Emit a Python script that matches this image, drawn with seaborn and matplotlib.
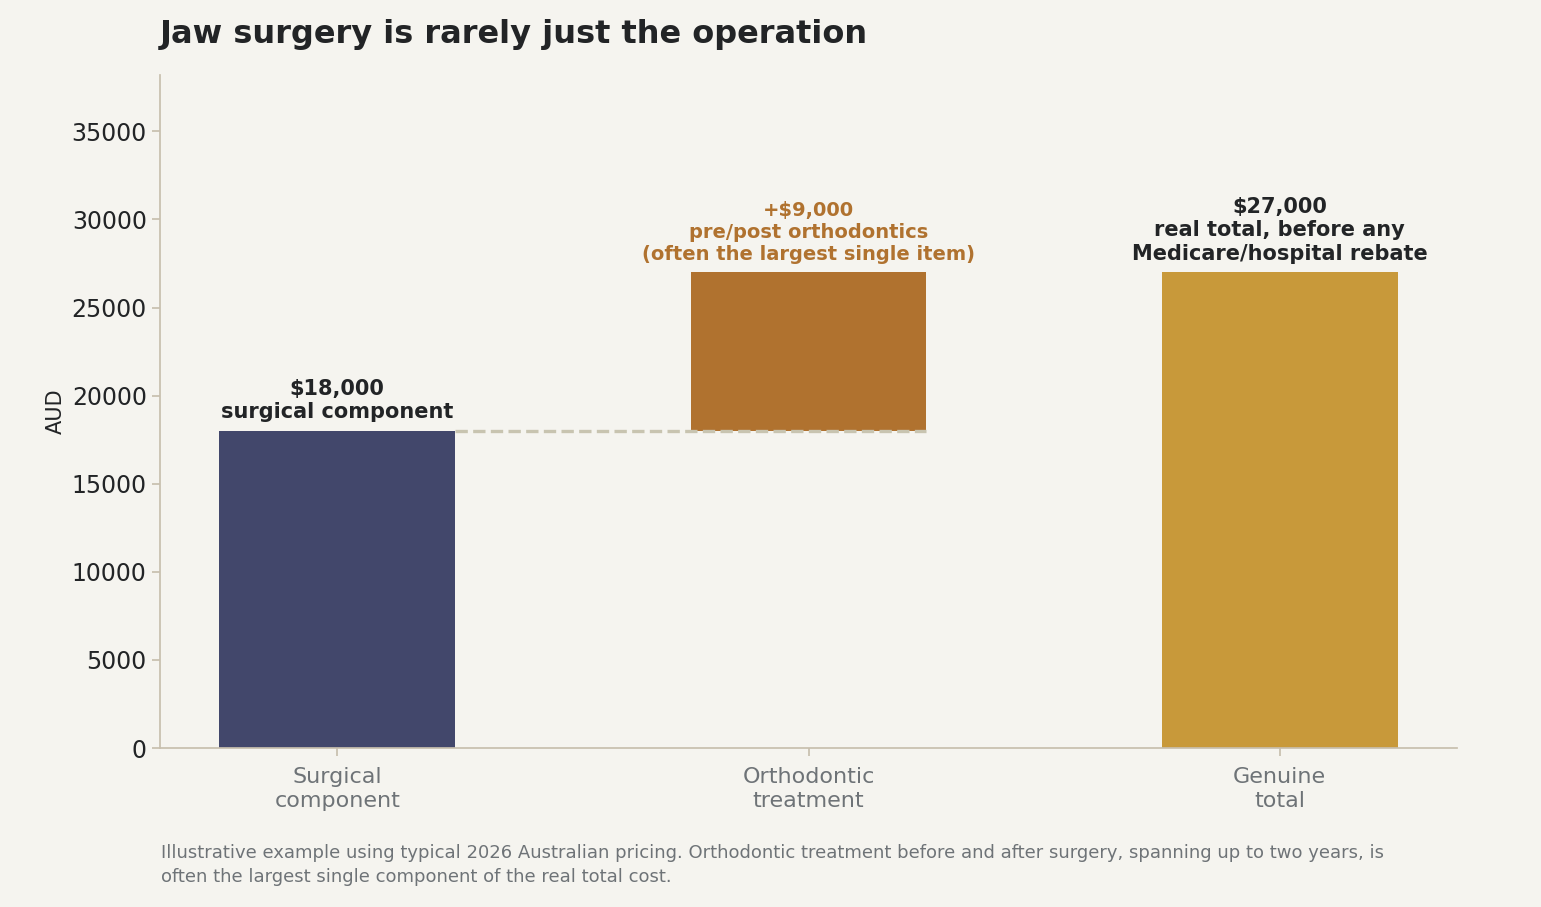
import numpy as np
import matplotlib
matplotlib.use("Agg")
import matplotlib.pyplot as plt
import seaborn as sns

# Data
categories = ["Surgical\ncomponent", "Orthodontic\ntreatment", "Genuine\ntotal"]
values = [18000, 9000, 27000]
bottoms = [0, 18000, 0]
colors = ["#42476B", "#B0722F", "#C8993A"]
labels = ["$18,000\nsurgical component",
          "+$9,000\npre/post orthodontics\n(often the largest single item)",
          "$27,000\nreal total, before any\nMedicare/hospital rebate"]
label_colors = ["#222426", "#B0722F", "#222426"]

bg = "#F5F4EF"
sns.set_theme(style="white")
plt.rcParams["font.family"] = ["DejaVu Sans"]

fig = plt.figure(figsize=(15.41, 9.07), dpi=100, facecolor=bg)
ax = fig.add_axes([160 / 1541, 1 - 748 / 907, (1457 - 160) / 1541, (748 - 75) / 907])
ax.set_facecolor(bg)

x = np.arange(len(categories))
ax.bar(x, values, bottom=bottoms, width=0.5, color=sns.color_palette(colors), linewidth=0)

# connector from surgical top to orthodontic base
ax.plot([0.25, 1.25], [values[0], values[0]], ls="--", lw=2.4, color="#C8C4B0", zorder=3)

for i, (lab, c) in enumerate(zip(labels, label_colors)):
    top = bottoms[i] + values[i]
    ax.text(i, top + 500, lab, ha="center", va="bottom", fontsize=14 if i == 1 else 15,
            fontweight="bold", color=c, linespacing=1.2)

ax.set_xticks(x)
ax.set_xticklabels(categories)
ax.set_xlim(-0.376, 2.376)
ax.set_ylim(0, 38200)
ax.set_yticks(np.arange(0, 35001, 5000))
ax.set_ylabel("AUD", fontsize=15, color="#222426")
ax.tick_params(axis="y", labelsize=17, colors="#222426", left=True, length=6, color="#C8BFAE")
ax.tick_params(axis="x", labelsize=16, labelcolor="#6E7377", bottom=True, length=6, color="#C8BFAE", pad=8)
for s in ["top", "right"]:
    ax.spines[s].set_visible(False)
for s in ["left", "bottom"]:
    ax.spines[s].set_color("#C8BFAE")

fig.text(160 / 1541, 1 - 35 / 907, "Jaw surgery is rarely just the operation",
         fontsize=23, fontweight="bold", color="#222426", va="center")
fig.text(161 / 1541, 1 - 865 / 907,
         "Illustrative example using typical 2026 Australian pricing. Orthodontic treatment before and after surgery, spanning up to two years, is\n"
         "often the largest single component of the real total cost.",
         fontsize=13, color="#6E7377", va="center", linespacing=1.45)

fig.savefig("out.png", dpi=100, facecolor=bg)
